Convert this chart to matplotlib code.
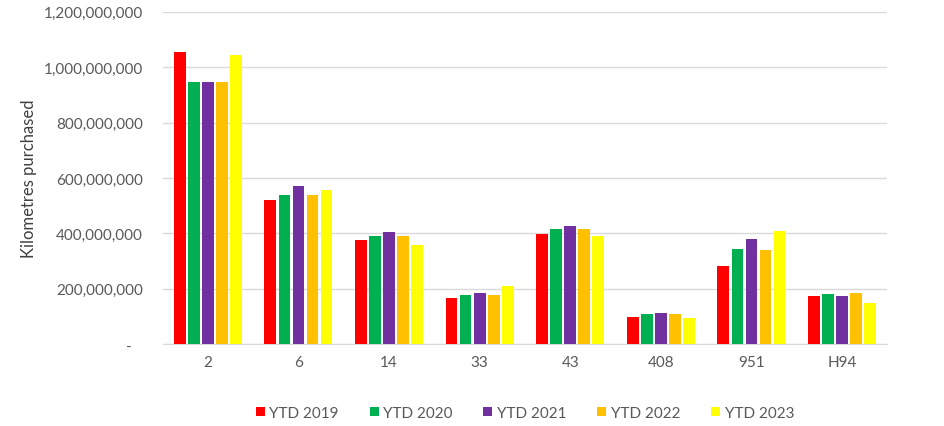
import matplotlib
matplotlib.use("Agg")
import matplotlib.pyplot as plt
import numpy as np
from matplotlib.ticker import FuncFormatter

plt.rcParams['font.family'] = ['Lato', 'DejaVu Sans']

routes = ["2", "6", "14", "33", "43", "408", "951", "H94"]
years = ["YTD 2019", "YTD 2020", "YTD 2021", "YTD 2022", "YTD 2023"]
colors = ["#FF0000", "#00B050", "#7030A0", "#FFC000", "#FFFF00"]

ytd2019 = [1056e6, 519e6, 374e6, 168e6, 397e6, 99e6, 283e6, 174e6]
ytd2020 = [947e6, 537e6, 390e6, 178e6, 416e6, 107e6, 344e6, 182e6]
ytd2021 = [947e6, 571e6, 404e6, 185e6, 426e6, 112e6, 380e6, 175e6]
ytd2022 = [947e6, 537e6, 390e6, 178e6, 416e6, 107e6, 341e6, 183e6]
ytd2023 = [1043e6, 555e6, 359e6, 209e6, 390e6, 95e6, 407e6, 147e6]
series = [ytd2019, ytd2020, ytd2021, ytd2022, ytd2023]

fig = plt.figure(figsize=(9.45, 4.27), dpi=100)
ax = fig.add_axes([0.172, 0.192, 0.767, 0.778])

x = np.arange(len(routes))
step = 0.155
width = 0.13
for i in range(len(series)):
    ax.bar(x + (i - 2) * step, series[i], width, color=colors[i], label=years[i], zorder=3)

ax.set_xlim(-0.5, len(routes) - 0.5)
ax.set_ylim(0, 1.2e9)
ax.set_yticks(np.arange(0, 1.2e9 + 1, 2e8))

def fmt(v, pos):
    if v == 0:
        return "-   "
    return "{:,.0f}".format(v)

ax.yaxis.set_major_formatter(FuncFormatter(fmt))
ax.set_xticks(x)
ax.set_xticklabels(routes)
ax.grid(axis="y", color="#D9D9D9", linewidth=1, zorder=0)
for s in ["top", "right", "left"]:
    ax.spines[s].set_visible(False)
ax.spines["bottom"].set_color("#D9D9D9")
ax.tick_params(axis="both", length=0, labelsize=11, colors="#595959")
ax.tick_params(axis="y", pad=14)
ax.tick_params(axis="x", pad=8)
ax.set_ylabel("Kilometres purchased", fontsize=12, color="#404040", labelpad=5)

ax.legend(loc="upper center", bbox_to_anchor=(0.5, -0.145), ncol=5, frameon=False,
          fontsize=11, handlelength=0.6, handleheight=0.6, columnspacing=2.0,
          handletextpad=0.3, labelcolor="#595959")

fig.savefig("out.png", dpi=100)
